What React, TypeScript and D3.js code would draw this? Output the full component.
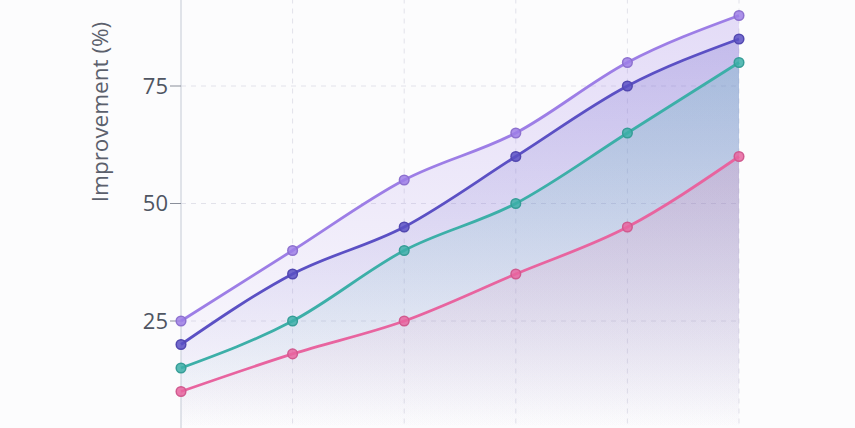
import { useEffect, useRef } from "react"
import * as d3 from "d3"

// 6 evenly spaced steps along x (axis labels fall outside the visible crop)
const steps = [0, 1, 2, 3, 4, 5]
const yTicks = [25, 50, 75]

const seriesNames = ["Purple", "Indigo", "Teal", "Pink"]
const seriesColors = ["#9d7ee6", "#5b50c4", "#3cafa8", "#e8649f"]
const purpleValues = [25, 40, 55, 65, 80, 90]
const indigoValues = [20, 35, 45, 60, 75, 85]
const tealValues = [15, 25, 40, 50, 65, 80]
const pinkValues = [10, 18, 25, 35, 45, 60]
const allValues = [purpleValues, indigoValues, tealValues, pinkValues]

export default function App() {
  const svgRef = useRef<SVGSVGElement>(null)

  useEffect(() => {
    if (!svgRef.current) return
    const width = 855
    const height = 428
    const svg = d3.select(svgRef.current)
    svg.selectAll("*").remove()
    svg.attr("width", width).attr("height", height)

    svg.append("rect").attr("width", width).attr("height", height).attr("fill", "#fcfcfd")

    const x = d3.scaleLinear().domain([0, 5]).range([181, 739])
    const y = d3.scaleLinear().domain([0, 100]).range([438.5, -31.5])

    // 格線
    const grid = svg.append("g")
    grid.selectAll(".hgrid")
      .data(yTicks)
      .enter().append("line")
      .attr("x1", x(0)).attr("x2", x(5))
      .attr("y1", d => y(d)).attr("y2", d => y(d))
      .attr("stroke", "#e2e2ea").attr("stroke-width", 1).attr("stroke-dasharray", "5,5")
    grid.selectAll(".vgrid")
      .data(steps.slice(1))
      .enter().append("line")
      .attr("x1", d => x(d)).attr("x2", d => x(d))
      .attr("y1", y(100)).attr("y2", y(0))
      .attr("stroke", "#e2e2ea").attr("stroke-width", 1).attr("stroke-dasharray", "5,5")

    const defs = svg.append("defs")
    seriesColors.forEach((c, i) => {
      const g = defs.append("linearGradient")
        .attr("id", `grad-${i}`)
        .attr("gradientUnits", "userSpaceOnUse")
        .attr("x1", 0).attr("y1", y(95))
        .attr("x2", 0).attr("y2", y(2))
      g.append("stop").attr("offset", "0%").attr("stop-color", c).attr("stop-opacity", 0.27)
      g.append("stop").attr("offset", "100%").attr("stop-color", c).attr("stop-opacity", 0)
    })

    const area = d3.area<number>()
      .x((_, i) => x(steps[i]))
      .y0(y(0))
      .y1(d => y(d))
      .curve(d3.curveMonotoneX)

    const line = d3.line<number>()
      .x((_, i) => x(steps[i]))
      .y(d => y(d))
      .curve(d3.curveMonotoneX)

    allValues.forEach((vals, i) => {
      svg.append("path")
        .datum(vals)
        .attr("fill", `url(#grad-${i})`)
        .attr("d", area)
    })

    // y 軸
    svg.append("line")
      .attr("x1", x(0)).attr("x2", x(0))
      .attr("y1", y(100)).attr("y2", height)
      .attr("stroke", "#cdd2dc").attr("stroke-width", 1.2)

    const yAxis = svg.append("g")
    yAxis.selectAll("line")
      .data(yTicks)
      .enter().append("line")
      .attr("x1", x(0) - 11).attr("x2", x(0))
      .attr("y1", d => y(d)).attr("y2", d => y(d))
      .attr("stroke", "#8a8f9a").attr("stroke-width", 1)
    yAxis.selectAll("text")
      .data(yTicks)
      .enter().append("text")
      .attr("x", x(0) - 13)
      .attr("y", d => y(d))
      .attr("dy", "0.35em")
      .attr("text-anchor", "end")
      .attr("font-family", "'Open Sans', 'Noto Sans', sans-serif")
      .attr("font-size", 22)
      .attr("fill", "#4f5562")
      .text(d => d)

    svg.append("text")
      .attr("transform", `translate(108,112) rotate(-90)`)
      .attr("text-anchor", "middle")
      .attr("font-family", "'Open Sans', 'Noto Sans', sans-serif")
      .attr("font-size", 22.5)
      .attr("fill", "#5b606c")
      .text("Improvement (%)")

    allValues.forEach((vals, i) => {
      const c = seriesColors[i]
      svg.append("path")
        .datum(vals)
        .attr("class", seriesNames[i])
        .attr("fill", "none")
        .attr("stroke", c)
        .attr("stroke-width", 2.8)
        .attr("stroke-linejoin", "round")
        .attr("d", line)
      svg.selectAll(`.dot-${i}`)
        .data(vals)
        .enter().append("circle")
        .attr("cx", (_, j) => x(steps[j]))
        .attr("cy", d => y(d))
        .attr("r", 4.8)
        .attr("fill", c)
        .attr("fill-opacity", 0.85)
        .attr("stroke", d3.color(c)!.darker(0.3).toString())
        .attr("stroke-width", 1.5)
    })
  }, [])

  return (
    <div style={{ position: "fixed", left: 0, top: 0, width: 855, height: 428, overflow: "hidden" }}>
      <svg ref={svgRef} style={{ display: "block" }}></svg>
    </div>
  )
}
